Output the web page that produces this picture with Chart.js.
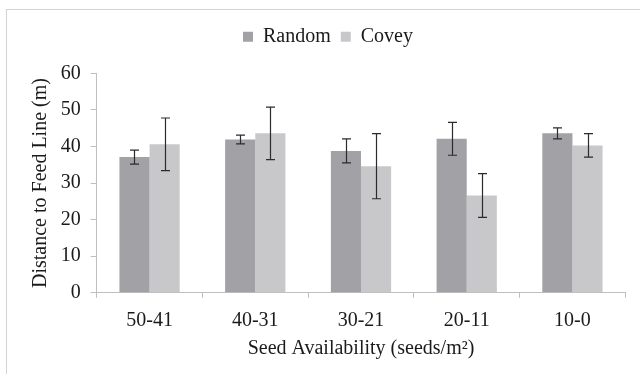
<!DOCTYPE html>
<html lang="en">

<head>
    <meta charset="UTF-8">
    <title>Distance to Feed Line</title>
    <script src="https://cdn.jsdelivr.net/npm/chart.js"></script>
    <style>
        html, body { margin: 0; padding: 0; background: #fff; overflow: hidden; }
        .janela { position: relative; width: 640px; height: 374px; }
        .moldura {
            position: absolute; left: 6px; top: 9px; width: 700px; height: 420px;
            border: 1px solid #d4d4d4; box-sizing: border-box;
        }
        #grafico { position: absolute; left: 0; top: 0; }
    </style>
</head>

<body>
    <div class="janela">
        <div class="moldura"></div>
        <canvas id="grafico" width="640" height="374"></canvas>
    </div>
</body>

</html>

<script>
    // Dados
    const categorias = ['50-41', '40-31', '30-21', '20-11', '10-0'];
    const random = [37.1, 41.9, 38.8, 42.1, 43.6];
    const randomErro = [1.9, 1.2, 3.3, 4.5, 1.5];
    const covey = [40.6, 43.6, 34.6, 26.6, 40.3];
    const coveyErro = [7.2, 7.2, 8.9, 6.0, 3.2];
    const yTicks = [0, 10, 20, 30, 40, 50, 60];

    const fonte = '"Liberation Serif", "Times New Roman", serif';
    const corTexto = '#1a1a1a';
    const corEixo = '#bfbfbf';

    // Desenha as barras de erro por cima das colunas
    const barrasErro = {
        id: 'barrasErro',
        afterDatasetsDraw(chart) {
            const ctx = chart.ctx;
            const y = chart.scales.y;
            chart.data.datasets.forEach((ds, i) => {
                const meta = chart.getDatasetMeta(i);
                meta.data.forEach((bar, j) => {
                    const v = ds.data[j];
                    const e = ds.erros[j];
                    const yTop = y.getPixelForValue(v + e);
                    const yBot = y.getPixelForValue(v - e);
                    const x = Math.round(bar.x) + 0.5;
                    ctx.save();
                    ctx.strokeStyle = '#2b2b2b';
                    ctx.lineWidth = 1.2;
                    ctx.beginPath();
                    ctx.moveTo(x, yTop); ctx.lineTo(x, yBot);
                    ctx.moveTo(x - 4.5, yTop); ctx.lineTo(x + 4.5, yTop);
                    ctx.moveTo(x - 4.5, yBot); ctx.lineTo(x + 4.5, yBot);
                    ctx.stroke();
                    ctx.restore();
                });
            });
        }
    };

    const dados = {
        labels: categorias,
        datasets: [
            {
                label: 'Random',
                data: random,
                erros: randomErro,
                backgroundColor: 'rgb(162, 162, 166)',
                barPercentage: 1,
                categoryPercentage: 0.57
            },
            {
                label: 'Covey',
                data: covey,
                erros: coveyErro,
                backgroundColor: 'rgb(200, 200, 203)',
                barPercentage: 1,
                categoryPercentage: 0.57
            }
        ]
    };

    const config = {
        type: 'bar',
        data: dados,
        options: {
            responsive: false,
            animation: false,
            layout: { padding: { left: 30.7, right: 14.7, top: 16.7, bottom: 0 } },
            plugins: {
                legend: {
                    position: 'top',
                    labels: {
                        boxWidth: 10,
                        boxHeight: 10,
                        padding: 10,
                        color: corTexto,
                        font: { family: fonte, size: 20 }
                    }
                },
                // espaçador entre a legenda e a área do gráfico
                title: {
                    display: true,
                    text: '',
                    weight: 500,
                    font: { size: 1, lineHeight: 1 },
                    padding: { top: 0, bottom: 15.7 }
                },
                tooltip: { enabled: false }
            },
            scales: {
                x: {
                    afterFit(scale) { scale.height = 81.3; },
                    grid: {
                        offset: true,
                        drawOnChartArea: false,
                        drawTicks: true,
                        tickLength: 5,
                        color: corEixo
                    },
                    border: { color: corEixo, width: 1 },
                    ticks: {
                        padding: 11,
                        color: corTexto,
                        font: { family: fonte, size: 20 }
                    },
                    title: {
                        display: true,
                        text: 'Seed Availability (seeds/m²)',
                        color: corTexto,
                        font: { family: fonte, size: 20 },
                        padding: { top: 0, bottom: 13 }
                    }
                },
                y: {
                    min: 0,
                    max: 60,
                    afterFit(scale) { scale.width = 66; },
                    afterBuildTicks(scale) { scale.ticks = yTicks.map(v => ({ value: v })); },
                    grid: {
                        drawOnChartArea: false,
                        drawTicks: true,
                        tickLength: 6,
                        color: corEixo
                    },
                    border: { color: corEixo, width: 1 },
                    ticks: {
                        padding: 10,
                        color: corTexto,
                        font: { family: fonte, size: 20 }
                    },
                    title: {
                        display: true,
                        text: 'Distance to Feed Line (m)',
                        color: corTexto,
                        font: { family: fonte, size: 20, lineHeight: 1 },
                        padding: { top: 0, bottom: 0 }
                    }
                }
            }
        },
        plugins: [barrasErro]
    };

    let myChart = new Chart(document.getElementById('grafico'), config);
</script>
